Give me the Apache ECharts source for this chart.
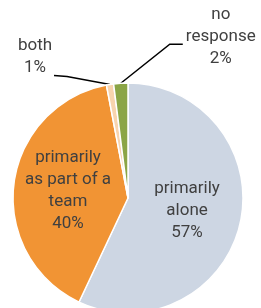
<!DOCTYPE html>
<html>
<head>
<meta charset="utf-8">
<script src="https://cdn.jsdelivr.net/npm/echarts@6/dist/echarts.min.js"></script>
<style>
  html, body { margin: 0; padding: 0; background: #fff; }
  #chart { width: 261px; height: 308px; }
</style>
</head>
<body>
<div id="chart"></div>
<script>
const categories = ['primarily alone', 'primarily as part of a team', 'both', 'no response']
const values = [57, 40, 1, 2]
const labelTexts = ['primarily\nalone', 'primarily\nas part of a\nteam', 'both', 'no\nresponse']
const colors = ['#cdd6e3', '#f19434', '#f8d4ae', '#8ba546']

// small slices get their label pulled out to the side (offsets from the slice edge)
const outsideLabels = {
  2: { elbow: [-43, -8], end: [-56, -9], text: [-75, -28] },
  3: { elbow: [49, -39], end: [62, -39], text: [100, -46] },
}

const chart = echarts.init(document.getElementById('chart'), null, { renderer: 'canvas' })

const data = categories.map((name, i) => {
  const item = {
    name,
    value: values[i],
    itemStyle: { color: colors[i] },
  }
  if (outsideLabels[i]) {
    item.label = { position: 'outside' }
    item.labelLine = { show: true }
  } else {
    item.label = { position: 'inside' }
    item.labelLine = { show: false }
  }
  return item
})

chart.setOption({
  animation: false,
  series: [
    {
      type: 'pie',
      center: [128, 198],
      radius: [0, 115],
      startAngle: 90,
      clockwise: true,
      avoidLabelOverlap: false,
      itemStyle: { borderColor: '#fff', borderWidth: 1.5 },
      label: {
        show: true,
        color: '#404040',
        fontFamily: 'Roboto, "Liberation Sans", sans-serif',
        fontSize: 17,
        lineHeight: 22,
        align: 'center',
        formatter: (p) => `${labelTexts[p.dataIndex]}\n${p.value}%`,
      },
      labelLine: {
        length: 20,
        length2: 12,
        lineStyle: { color: '#000', width: 1.5 },
      },
      labelLayout: (p) => {
        const o = outsideLabels[p.dataIndex]
        if (!o || !p.labelLinePoints) return {}
        const [ex, ey] = p.labelLinePoints[0]
        return {
          x: ex + o.text[0],
          y: ey + o.text[1],
          align: 'center',
          verticalAlign: 'middle',
          labelLinePoints: [
            [ex, ey],
            [ex + o.elbow[0], ey + o.elbow[1]],
            [ex + o.end[0], ey + o.end[1]],
          ],
        }
      },
      data,
    },
  ],
})
</script>
</body>
</html>
